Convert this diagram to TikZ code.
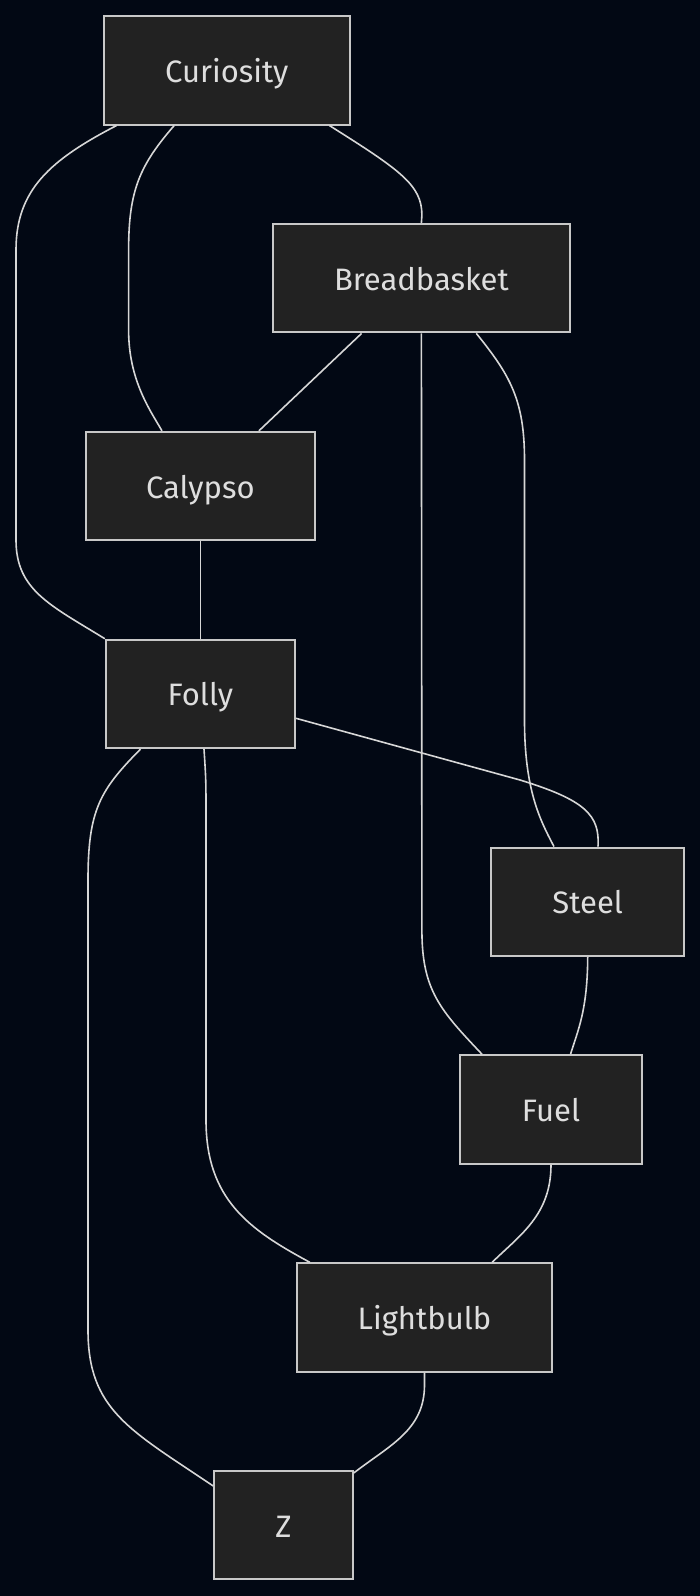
\documentclass[tikz,border=0pt]{standalone}
\usepackage{fontspec}
\setmainfont{Fira Sans}
\definecolor{bg}{RGB}{2,8,20}
\definecolor{boxfill}{RGB}{34,34,34}
\definecolor{boxline}{RGB}{200,200,200}
\definecolor{edgecol}{RGB}{215,215,215}
\definecolor{txt}{RGB}{222,222,222}
\begin{document}
\begin{tikzpicture}[x=1pt,y=-1pt,
  box/.style={draw=boxline,fill=boxfill,line width=2pt,inner sep=0pt,
    minimum height=108.4pt,text=txt,font=\fontsize{31}{36}\selectfont,
    text height=24pt,text depth=0pt},
  edge/.style={draw=edgecol,line width=1.6pt}]
\fill[bg] (0,0) rectangle (700,1596);
\useasboundingbox (0,0) rectangle (700,1596);
% nodes
\node[box,minimum width=246pt] (cur) at (226.8,70.3) {Curiosity};
\node[box,minimum width=297pt] (bread) at (421.4,278.2) {Breadbasket};
\node[box,minimum width=229.5pt] (caly) at (200.4,486) {Calypso};
\node[box,minimum width=189.2pt] (folly) at (200.4,693.9) {Folly};
\node[box,minimum width=193.4pt] (steel) at (587.7,901.8) {Steel};
\node[box,minimum width=182.2pt] (fuel) at (551,1109.5) {Fuel};
\node[box,minimum width=255.3pt] (light) at (424.5,1317.5) {Lightbulb};
\node[box,minimum width=138.4pt] (Z) at (283.5,1525.2) {Z};
% edges
\draw[edge] ([xshift=13.8pt]cur.south west) .. controls (50,160) and (16,190) .. (16,250)
  -- (16,540) .. controls (16,590) and (50,605) .. (folly.north west);
\draw[edge] ([xshift=71.4pt]cur.south west) .. controls (140,165) and (128.6,190) .. (128.6,250)
  -- (128.6,330) .. controls (128.6,380) and (150,410) .. ([xshift=77.3pt]caly.north west);
\draw[edge] ([xshift=-21.4pt]cur.south east) .. controls (400,170) and (421.9,185) .. (421.9,215)
  -- (bread.north);
\draw[edge] ([xshift=89.7pt]bread.south west) -- ([xshift=-57.2pt]caly.north east);
\draw[edge] (bread.south) -- (421.9,930) .. controls (421.9,990) and (440,1010) .. ([xshift=23.2pt]fuel.north west);
\draw[edge] ([xshift=-94.6pt]bread.south east) .. controls (510,375) and (524.5,400) .. (524.5,460)
  -- (524.5,720) .. controls (524.5,790) and (540,820) .. ([xshift=64pt]steel.north west);
\draw[edge] (caly.south) -- (folly.north);
\draw[edge] ([yshift=-24.4pt]folly.east) -- (520,780) .. controls (585,800) and (600,815) .. ([xshift=10.3pt]steel.north);
\draw[edge] ([xshift=3.6pt]folly.south) .. controls (206,780) .. (206,820)
  -- (206,1120) .. controls (206,1200) and (250,1230) .. ([xshift=14pt]light.north west);
\draw[edge] ([xshift=35.7pt]folly.south west) .. controls (100,790) and (88,810) .. (88,880)
  -- (88,1330) .. controls (88,1410) and (130,1430) .. ([yshift=-16pt]Z.north west);
\draw[edge] (steel.south) .. controls (587.5,1010) and (578,1030) .. ([xshift=19.5pt]fuel.north);
\draw[edge] (fuel.south) .. controls (551,1215) and (520,1235) .. ([xshift=-61pt]light.north east);
\draw[edge] (light.south) -- (424.5,1385) .. controls (424.5,1430) and (390,1445) .. ([yshift=-3pt]Z.north east);
\end{tikzpicture}
\end{document}
